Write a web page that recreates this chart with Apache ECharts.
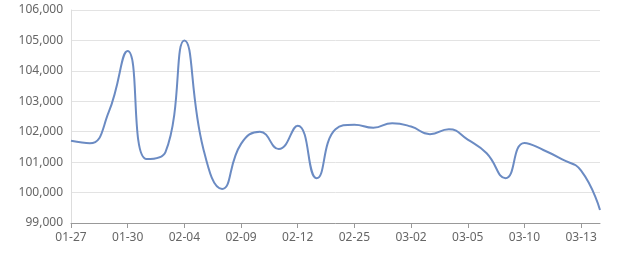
<!DOCTYPE html>
<html><head><meta charset="utf-8">
<script src="https://cdn.jsdelivr.net/npm/echarts@6/dist/echarts.min.js"></script>
<style>html,body{margin:0;padding:0;background:#fff}#c{width:640px;height:270px}</style>
</head><body><div id="c"></div>
<script>
const categories = ['01-27','01-28','01-29','01-30','01-31','02-03','02-04','02-05','02-06','02-09','02-10','02-11','02-12','02-13','02-24','02-25','02-26','02-27','03-02','03-03','03-04','03-05','03-06','03-09','03-10','03-11','03-12','03-13','03-14'];
const prices = [101700,101620,102650,104650,101100,101330,105000,101450,100120,101600,102000,101430,102200,100470,102080,102230,102130,102280,102170,101920,102080,101740,101290,100470,101630,101400,101090,100720,99430];
const yTicks = {min:99000, max:106000, interval:1000};
const chart = echarts.init(document.getElementById('c'), null, {renderer:'canvas'});
chart.setOption({
  animation:false,
  grid:{left:71,right:40,top:10,bottom:47},
  xAxis:{type:'category',data:categories,boundaryGap:false,
    axisLine:{lineStyle:{color:'#999'}},
    axisTick:{show:true,interval:2,length:5,lineStyle:{color:'#999'}},
    axisLabel:{interval:2,color:'#666',fontSize:12,margin:9,fontFamily:'Noto Sans, sans-serif'}},
  yAxis:{type:'value',min:yTicks.min,max:yTicks.max,interval:yTicks.interval,
    axisLine:{show:true,lineStyle:{color:'#ddd'}},
    axisTick:{show:false},
    splitLine:{lineStyle:{color:'#e3e3e3'}},
    axisLabel:{color:'#666',fontSize:12,margin:8,fontFamily:'Noto Sans, sans-serif',
      formatter:v=>v.toLocaleString('en-US')}},
  series:[{type:'line',data:prices,smooth:true,showSymbol:false,
    lineStyle:{color:'#6b8bc3',width:2}}]
});
</script></body></html>
